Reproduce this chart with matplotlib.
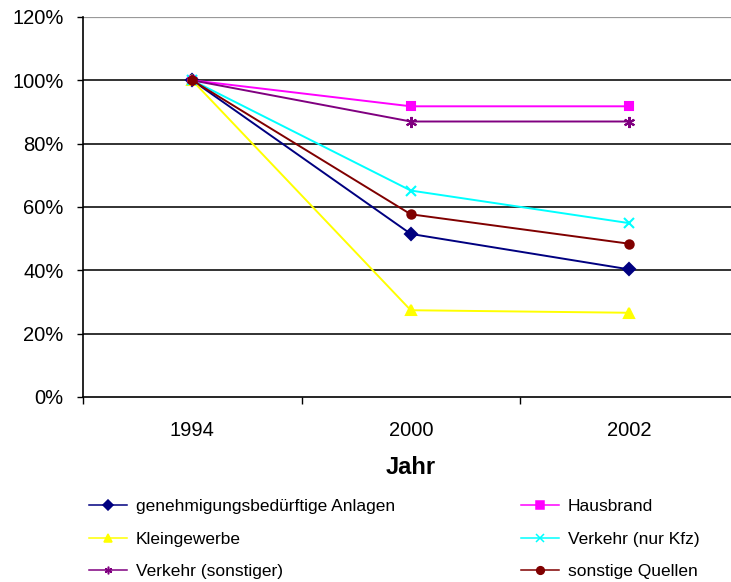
import matplotlib
matplotlib.use("Agg")
import matplotlib.pyplot as plt
from matplotlib.lines import Line2D
from matplotlib.ticker import FuncFormatter

plt.rcParams['font.family'] = ['Liberation Sans', 'DejaVu Sans']

years = ["1994", "2000", "2002"]

genehmigung = [100.0, 51.5, 40.3]
hausbrand = [100.0, 91.8, 91.8]
kleingewerbe = [100.0, 27.4, 26.6]
verkehr_kfz = [100.0, 65.2, 54.9]
verkehr_sonst = [100.0, 87.0, 87.0]
sonstige = [100.0, 57.7, 48.4]

series = [
    ("genehmigungsbedürftige Anlagen", genehmigung, "#000080", "D", 6),
    ("Hausbrand", hausbrand, "#FF00FF", "s", 6),
    ("Kleingewerbe", kleingewerbe, "#FFFF00", "^", 7.5),
    ("Verkehr (nur Kfz)", verkehr_kfz, "#00FFFF", "x", 7),
    ("Verkehr (sonstiger)", verkehr_sonst, "#800080", (6, 2, 0), 8),
    ("sonstige Quellen", sonstige, "#800000", "o", 6),
]

fig = plt.figure(figsize=(7.31, 5.82), dpi=100)
ax = fig.add_axes([83 / 731, 1 - 397 / 582, 655.5 / 731, 380 / 582])

x = list(range(len(years)))
handles = {}
for name, vals, color, marker, ms in series:
    (ln,) = ax.plot(x, vals, color=color, marker=marker, markersize=ms,
                    markeredgewidth=1.5, linewidth=1.4, label=name, zorder=3)
    handles[name] = ln

ax.set_xlim(-0.5, 2.5)
ax.set_ylim(0, 120)
ax.set_yticks([0, 20, 40, 60, 80, 100, 120])
ax.yaxis.set_major_formatter(FuncFormatter(lambda v, p: f"{v:.0f}%"))
for yv in [20, 40, 60, 80, 100]:
    ax.axhline(yv, color="#222222", linewidth=1.3, zorder=1)
ax.axhline(120, color="#999999", linewidth=1.6, zorder=1)

ax.set_xticks([0, 1, 2])
ax.set_xticklabels(years)
ax.set_xticks([-0.5, 0.5, 1.5, 2.5], minor=True)
ax.tick_params(axis="x", which="major", length=0, pad=17, labelsize=14.5)
ax.tick_params(axis="x", which="minor", length=5, width=1, direction="out")
ax.tick_params(axis="y", length=4.5, width=1, direction="out", labelsize=14.5, pad=9.5)

for s in ["top", "right"]:
    ax.spines[s].set_visible(False)
ax.spines["left"].set_linewidth(1.2)
ax.spines["bottom"].set_linewidth(1.2)

ax.set_xlabel("Jahr", fontsize=17, fontweight="bold", labelpad=12)

left_names = ["genehmigungsbedürftige Anlagen", "Kleingewerbe", "Verkehr (sonstiger)"]
right_names = ["Hausbrand", "Verkehr (nur Kfz)", "sonstige Quellen"]

def legend_handle(name):
    ln = handles[name]
    return Line2D([], [], color=ln.get_color(), marker=ln.get_marker(),
                  markersize=5.5, markeredgewidth=1.1, linewidth=1.1)

for names, xpos in [(left_names, 89 / 731), (right_names, 521 / 731)]:
    fig.legend([legend_handle(n) for n in names], names,
               loc="upper left", bbox_to_anchor=(xpos, 1 - 499 / 582),
               frameon=False, fontsize=12.5, handlelength=2.2,
               handletextpad=0.5, labelspacing=1.0, borderaxespad=0,
               borderpad=0)

fig.savefig("out.png", dpi=100)
